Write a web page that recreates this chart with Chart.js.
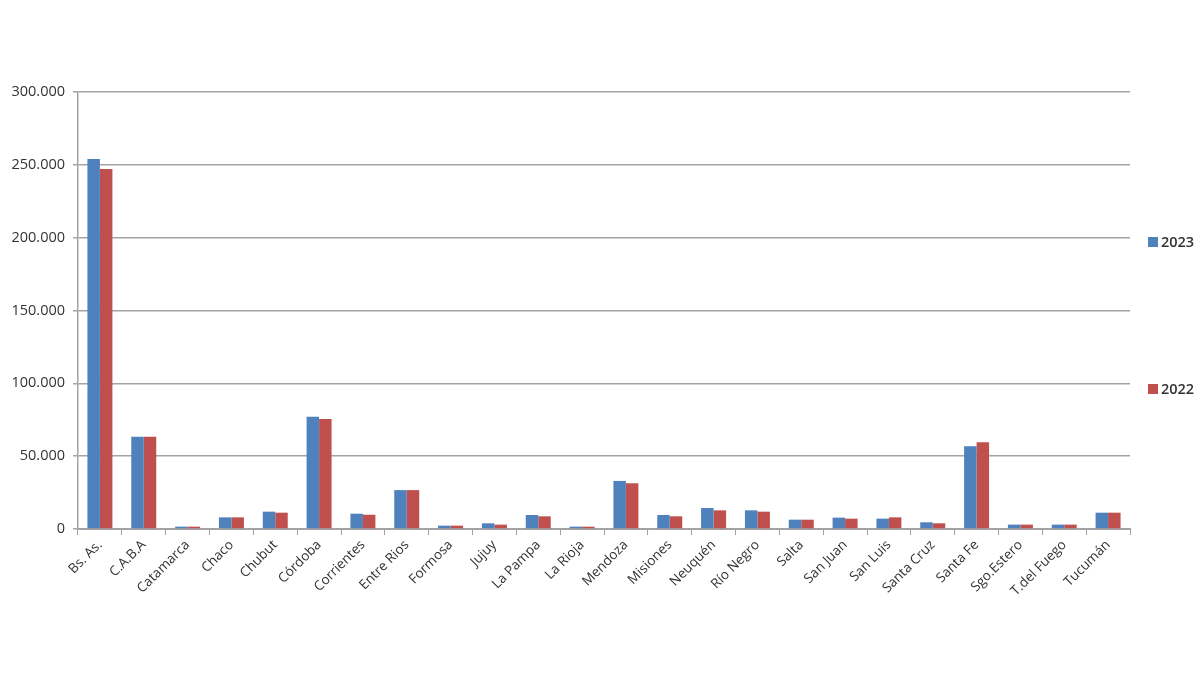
<!DOCTYPE html>
<html>
<head>
<meta charset="utf-8">
<title>Provincias 2023 / 2022</title>
<script src="https://cdn.jsdelivr.net/npm/chart.js@4/dist/chart.umd.min.js"></script>
<style>
    html, body { margin: 0; padding: 0; background: #fff; }
    #wrap { width: 1200px; height: 675px; position: relative; }
</style>
</head>
<body>
<div id="wrap"><canvas id="chart" width="1200" height="675"></canvas></div>
<script>
// categorías (provincias)
const provincias = [
    "Bs. As.", "C.A.B.A", "Catamarca", "Chaco", "Chubut", "Córdoba",
    "Corrientes", "Entre Rios", "Formosa", "Jujuy", "La Pampa", "La Rioja",
    "Mendoza", "Misiones", "Neuquén", "Río Negro", "Salta", "San Juan",
    "San Luis", "Santa Cruz", "Santa Fe", "Sgo.Estero", "T.del Fuego", "Tucumán"
];

// valores
const valores2023 = [
    254000, 63400, 1600, 8000, 11900, 77100,
    10500, 26700, 2300, 3900, 9600, 1600,
    33000, 9600, 14400, 12800, 6400, 7800,
    7100, 4600, 56800, 3000, 3000, 11200
];
const valores2022 = [
    247100, 63400, 1600, 8000, 11200, 75500,
    9800, 26700, 2300, 3000, 8700, 1600,
    31400, 8700, 12800, 11900, 6400, 7100,
    8000, 3900, 59500, 3000, 3000, 11200
];

const series = ["2023", "2022"];
const colores = ["#4F81BD", "#C0504D"];

const GRID = "#a3a3a3";
const TEXTO = "#333333";

// formato con punto de miles: 300.000
function miles(v) {
    return String(v).replace(/\B(?=(\d{3})+(?!\d))/g, ".");
}

// leyenda a la derecha, como la original
const leyendaDerecha = {
    id: "leyendaDerecha",
    afterDraw(chart) {
        const ctx = chart.ctx;
        const ys = [242, 389];
        ctx.save();
        chart.data.datasets.forEach((ds, i) => {
            ctx.fillStyle = ds.backgroundColor;
            ctx.fillRect(1148, ys[i] - 5, 10, 10);
            ctx.fillStyle = "#333";
            ctx.font = "600 14.5px 'Open Sans', sans-serif";
            ctx.textBaseline = "middle";
            ctx.textAlign = "left";
            ctx.fillText(ds.label, 1161, ys[i] + 1);
        });
        ctx.restore();
    }
};

new Chart(document.getElementById("chart"), {
    type: "bar",
    data: {
        labels: provincias,
        datasets: [
            { label: series[0], data: valores2023, backgroundColor: colores[0] },
            { label: series[1], data: valores2022, backgroundColor: colores[1] },
        ],
    },
    options: {
        responsive: false,
        animation: false,
        events: [],
        layout: { padding: { top: 92, right: 70, bottom: 0, left: 0 } },
        datasets: {
            bar: { categoryPercentage: 0.57, barPercentage: 1.0, borderWidth: 0 },
        },
        plugins: {
            legend: { display: false },
            tooltip: { enabled: false },
        },
        scales: {
            x: {
                grid: {
                    display: true,
                    drawOnChartArea: false,
                    drawTicks: true,
                    tickLength: 6,
                    color: GRID,
                    offset: true,
                },
                border: { display: true, color: GRID, width: 2 },
                ticks: {
                    color: TEXTO,
                    font: { family: "'Open Sans', sans-serif", size: 13.5 },
                    minRotation: 45,
                    maxRotation: 45,
                    autoSkip: false,
                    padding: 2,
                },
                afterFit(scale) { scale.height = 146; },
            },
            y: {
                min: 0,
                max: 300000,
                ticks: {
                    stepSize: 50000,
                    color: TEXTO,
                    font: { family: "'Open Sans', sans-serif", size: 14.5 },
                    padding: 8,
                    callback: v => miles(v),
                },
                grid: {
                    color: GRID,
                    lineWidth: 1.5,
                    tickLength: 5,
                },
                border: { display: true, color: GRID, width: 1.5 },
                afterFit(scale) { scale.width = 78; },
            },
        },
    },
    plugins: [leyendaDerecha],
});
</script>
</body>
</html>
